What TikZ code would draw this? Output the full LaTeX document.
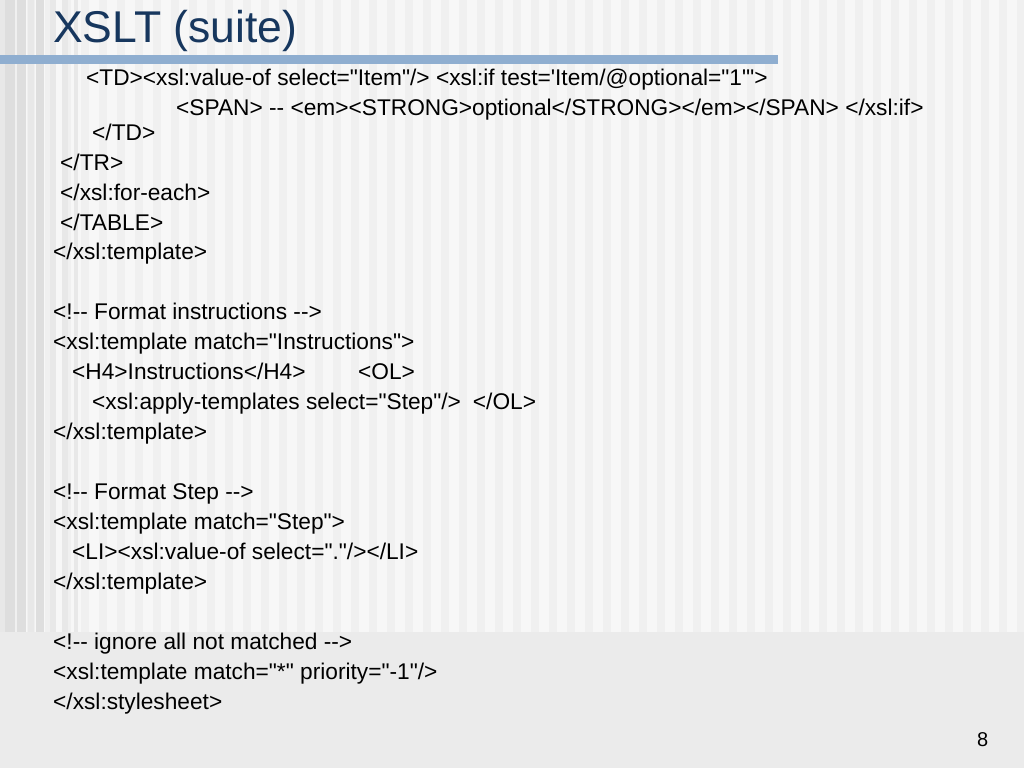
\documentclass[tikz,border=0pt]{standalone}
\usepackage{fontspec}
\setmainfont{Liberation Sans}[Ligatures=TeXOff]
\definecolor{titleblue}{HTML}{17375E}
\definecolor{barblue}{HTML}{8FAED0}
\definecolor{bgbase}{HTML}{F7F7F7}
\definecolor{bgstripe}{HTML}{F0F0F0}
\definecolor{bgdark}{HTML}{DEDEDE}
\definecolor{bgmid}{HTML}{E8E8E8}
\definecolor{bgband}{HTML}{EBEBEB}
\begin{document}
\begin{tikzpicture}[x=1pt,y=-1pt,
  code/.style={anchor=base west,inner sep=0pt,font=\fontsize{22.7}{27}\selectfont,text=black},
  titletext/.style={anchor=base west,inner sep=0pt,font=\fontsize{44.5}{50}\selectfont,text=titleblue},
  pagenum/.style={anchor=base west,inner sep=0pt,font=\fontsize{20}{24}\selectfont,text=black}]
\useasboundingbox (0,0) rectangle (1024,768);
% background
\fill[bgbase] (0,0) rectangle (1024,632);
\foreach \i in {0,...,56}{
  \fill[bgstripe] ({\i*18+9},0) rectangle ({\i*18+17},632);
}
\foreach \a/\b/\c in {0/5/bgmid,5/15/bgdark,17/26/bgdark,28/34/bgmid,36/44/bgdark,50/56/bgmid,62/68/bgmid,74/78/bgmid}{
  \fill[\c] (\a,0) rectangle (\b,632);
}
\fill[bgband] (0,632) rectangle (1024,768);
% bar
\fill[barblue] (0,55) rectangle (778,64);
% title
\node[titletext] (title) at (53,42) {XSLT (suite)};
% code lines
\node[code] (l1) at (86,85) {<TD><xsl:value-of select="Item"/> <xsl:if test='Item/@optional="1"'>};
\node[code] (l2) at (176,115) {<SPAN> -- <em><STRONG>optional</STRONG></em></SPAN> </xsl:if>};
\node[code] (l3) at (92,140) {</TD>};
\node[code] (l4) at (60,170) {</TR>};
\node[code] (l5) at (60,200) {</xsl:for-each>};
\node[code] (l6) at (60,230) {</TABLE>};
\node[code] (l7) at (53,259) {</xsl:template>};
\node[code] (l8) at (53,319) {<!-- Format instructions -->};
\node[code] (l9) at (53,349) {<xsl:template match="Instructions">};
\node[code] (l10) at (72,379) {<H4>Instructions</H4>};
\node[code] (l10b) at (358,379) {<OL>};
\node[code] (l11) at (92,409) {<xsl:apply-templates select="Step"/>\hspace{12pt}</OL>};
\node[code] (l12) at (53,439) {</xsl:template>};
\node[code] (l13) at (53,499) {<!-- Format Step -->};
\node[code] (l14) at (53,529) {<xsl:template match="Step">};
\node[code] (l15) at (72,559) {<LI><xsl:value-of select="."/></LI>};
\node[code] (l16) at (53,589) {</xsl:template>};
\node[code] (l17) at (53,649) {<!-- ignore all not matched -->};
\node[code] (l18) at (53,679) {<xsl:template match="*" priority="-1"/>};
\node[code] (l19) at (53,709) {</xsl:stylesheet>};
\node[pagenum] (pg) at (977,746) {8};
\end{tikzpicture}
\end{document}
